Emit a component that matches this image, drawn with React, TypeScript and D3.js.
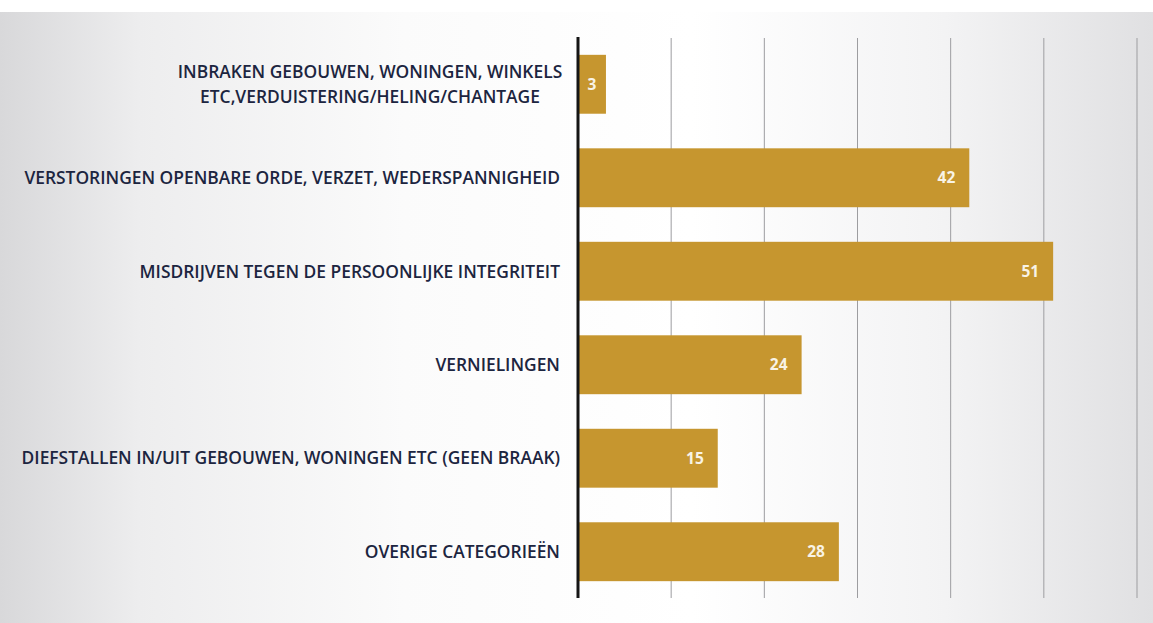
import React from "react";
import * as d3 from "d3";

const categories: string[][] = [
  ["INBRAKEN GEBOUWEN, WONINGEN, WINKELS", "ETC,VERDUISTERING/HELING/CHANTAGE"],
  ["VERSTORINGEN OPENBARE ORDE, VERZET, WEDERSPANNIGHEID"],
  ["MISDRIJVEN TEGEN DE PERSOONLIJKE INTEGRITEIT"],
  ["VERNIELINGEN"],
  ["DIEFSTALLEN IN/UIT GEBOUWEN, WONINGEN ETC (GEEN BRAAK)"],
  ["OVERIGE CATEGORIEËN"],
];
const values: number[] = [3, 42, 51, 24, 15, 28];
const xTicks: number[] = [0, 10, 20, 30, 40, 50, 60];

const W = 1153;
const H = 623;

export default function App() {
  const keys = categories.map((c, i) => String(i));
  const x = d3.scaleLinear().domain([0, 60]).range([578, 1137]);
  const y = d3
    .scaleBand<string>()
    .domain(keys)
    .range([38, 598])
    .paddingInner(0.37)
    .paddingOuter(0.18);

  const labelRight = 560;
  const font = "'Open Sans', 'DejaVu Sans', sans-serif";
  const labelSize = 17.4;

  return (
    <svg
      width={W}
      height={H}
      style={{ position: "fixed", top: 0, left: 0, display: "block" }}
    >
      <defs>
        <linearGradient id="bg" x1="0" y1="0" x2="1" y2="0">
          <stop offset="0" stopColor="#d8d8da" />
          <stop offset="0.12" stopColor="#ededee" />
          <stop offset="0.35" stopColor="#fbfbfb" />
          <stop offset="0.6" stopColor="#ffffff" />
          <stop offset="0.82" stopColor="#f3f3f4" />
          <stop offset="1" stopColor="#e0e0e2" />
        </linearGradient>
      </defs>
      <rect x={0} y={0} width={W} height={H} fill="#ffffff" />
      <rect x={0} y={12} width={W} height={H - 12} fill="url(#bg)" />

      {/* gridlines */}
      {xTicks.slice(1).map((t) => (
        <line
          key={t}
          x1={x(t)}
          x2={x(t)}
          y1={38}
          y2={598}
          stroke="#9d9da0"
          strokeWidth={1}
        />
      ))}

      {/* bars */}
      {values.map((v, i) => {
        const yy = y(keys[i])!;
        const w = x(v) - x(0);
        const narrow = w < 40;
        return (
          <g key={i}>
            <rect
              x={x(0)}
              y={yy}
              width={w}
              height={y.bandwidth()}
              fill="#c6962f"
            />
            <text
              x={narrow ? x(0) + w / 2 : x(v) - 14}
              y={yy + y.bandwidth() / 2}
              dy="0.36em"
              textAnchor={narrow ? "middle" : "end"}
              fill="#f8f3e6"
              fontFamily={font}
              fontWeight={700}
              fontSize={15.5}
            >
              {v}
            </text>
          </g>
        );
      })}

      {/* category labels */}
      {categories.map((lines, i) => {
        const cy = y(keys[i])! + y.bandwidth() / 2;
        const lh = 25;
        if (lines.length > 1) {
          return (
            <text
              key={i}
              fill="#1c2540"
              fontFamily={font}
              fontWeight={600}
              fontSize={labelSize}
              textAnchor="middle"
            >
              {lines.map((l, j) => (
                <tspan
                  key={j}
                  x={370}
                  y={cy + (j - (lines.length - 1) / 2) * lh}
                  dy="0.36em"
                >
                  {l}
                </tspan>
              ))}
            </text>
          );
        }
        return (
          <text
            key={i}
            x={labelRight}
            y={cy}
            dy="0.36em"
            textAnchor="end"
            fill="#1c2540"
            fontFamily={font}
            fontWeight={600}
            fontSize={labelSize}
          >
            {lines[0]}
          </text>
        );
      })}

      {/* axis */}
      <line x1={x(0)} x2={x(0)} y1={37} y2={598} stroke="#151515" strokeWidth={3} />
    </svg>
  );
}
